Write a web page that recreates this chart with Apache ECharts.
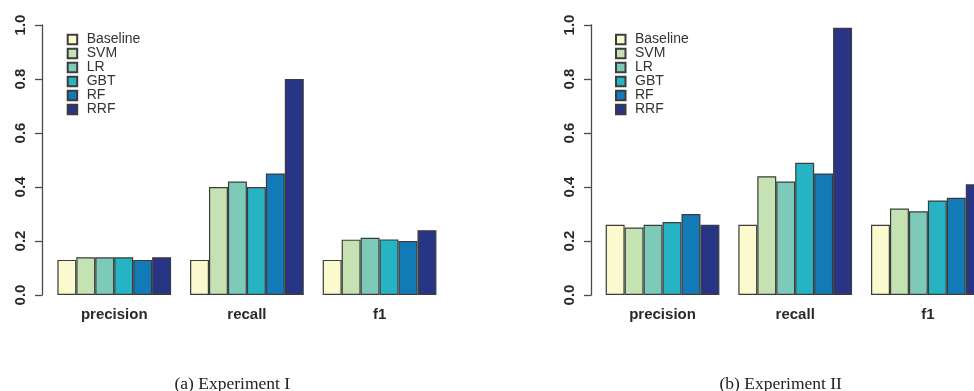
<!DOCTYPE html>
<html>
<head>
<meta charset="utf-8">
<script src="https://cdn.jsdelivr.net/npm/echarts@6/dist/echarts.min.js"></script>
<style>
html,body{margin:0;padding:0;background:#fff;}
#c{width:974px;height:391px;}
</style>
</head>
<body>
<div id="c"></div>
<script>
// ---- data ----
var categories = ['precision', 'recall', 'f1'];
var methods = ['Baseline', 'SVM', 'LR', 'GBT', 'RF', 'RRF'];
var yTicks = [0.0, 0.2, 0.4, 0.6, 0.8, 1.0];
// Experiment I (precision, recall, f1)
var exp1Baseline = [0.13, 0.13, 0.13];
var exp1SVM      = [0.14, 0.40, 0.205];
var exp1LR       = [0.14, 0.42, 0.212];
var exp1GBT      = [0.14, 0.40, 0.206];
var exp1RF       = [0.13, 0.45, 0.20];
var exp1RRF      = [0.14, 0.80, 0.24];
// Experiment II (precision, recall, f1)
var exp2Baseline = [0.26, 0.26, 0.26];
var exp2SVM      = [0.25, 0.44, 0.32];
var exp2LR       = [0.26, 0.42, 0.31];
var exp2GBT      = [0.27, 0.49, 0.35];
var exp2RF       = [0.30, 0.45, 0.36];
var exp2RRF      = [0.26, 0.99, 0.41];
var captions = ['(a) Experiment I', '(b) Experiment II'];

var colors = ['#FBF9CE', '#C5E2B2', '#7DCAB8', '#26B3C4', '#127AB6', '#283584'];
var exp1 = [exp1Baseline, exp1SVM, exp1LR, exp1GBT, exp1RF, exp1RRF];
var exp2 = [exp2Baseline, exp2SVM, exp2LR, exp2GBT, exp2RF, exp2RRF];

var chart = echarts.init(document.getElementById('c'), null, {renderer: 'canvas'});

var series = [];
[exp1, exp2].forEach(function (exp, gi) {
  exp.forEach(function (vals, mi) {
    series.push({
      type: 'bar',
      name: methods[mi],
      xAxisIndex: gi,
      yAxisIndex: gi,
      data: vals,
      barGap: '0%',
      barCategoryGap: '14.2857%',
      itemStyle: {color: colors[mi], borderColor: '#3c3c3c', borderWidth: 1.2},
      emphasis: {disabled: true},
      silent: true,
      animation: false
    });
  });
});

function yAxis(gi, off) {
  return {
    type: 'value', gridIndex: gi, min: 0, max: 1, interval: 0.2, offset: off,
    axisLine: {show: true, lineStyle: {color: '#4a4a4a', width: 1.3}},
    axisTick: {show: true, length: 7, lineStyle: {color: '#4a4a4a', width: 1.3}},
    splitLine: {show: false},
    axisLabel: {
      rotate: 90, margin: 14, fontSize: 15, fontWeight: 'bold',
      fontFamily: 'Liberation Sans, Arial, sans-serif', color: '#2a2a2a',
      formatter: function (v) { return v.toFixed(1); }
    }
  };
}
function xAxis(gi) {
  return {
    type: 'category', gridIndex: gi, data: categories,
    axisLine: {show: false}, axisTick: {show: false}, splitLine: {show: false},
    axisLabel: {
      margin: 12.5, fontSize: 15, fontWeight: 'bold',
      fontFamily: 'Liberation Sans, Arial, sans-serif', color: '#2a2a2a'
    }
  };
}
function legend(left) {
  return {
    orient: 'vertical', left: left, top: 32.6, padding: 0,
    itemWidth: 9.5, itemHeight: 9.5, itemGap: 0, icon: 'rect',
    data: methods, selectedMode: false,
    textStyle: {
      fontSize: 14, lineHeight: 13.4, color: '#333',
      fontFamily: 'Liberation Sans, Arial, sans-serif',
      padding: [0, 0, 0, 4.5]
    }
  };
}

chart.setOption({
  animation: false,
  backgroundColor: '#ffffff',
  grid: [
    {left: 47.9, top: 25, width: 398, height: 270, containLabel: false, outerBoundsMode: 'none'},
    {left: 596.2, top: 25, width: 398, height: 270, containLabel: false, outerBoundsMode: 'none'}
  ],
  xAxis: [xAxis(0), xAxis(1)],
  yAxis: [yAxis(0, 5.9), yAxis(1, 5.2)],
  legend: [legend(66.7), legend(615)],
  series: series,
  graphic: [
    {type: 'text', left: 232.5 - 58, top: 375, style: {text: captions[0], fontSize: 17.5,
      fontFamily: 'Liberation Serif, Times New Roman, serif', fill: '#222'}},
    {type: 'text', left: 781 - 61.5, top: 375, style: {text: captions[1], fontSize: 17.5,
      fontFamily: 'Liberation Serif, Times New Roman, serif', fill: '#222'}}
  ]
});
</script>
</body>
</html>
